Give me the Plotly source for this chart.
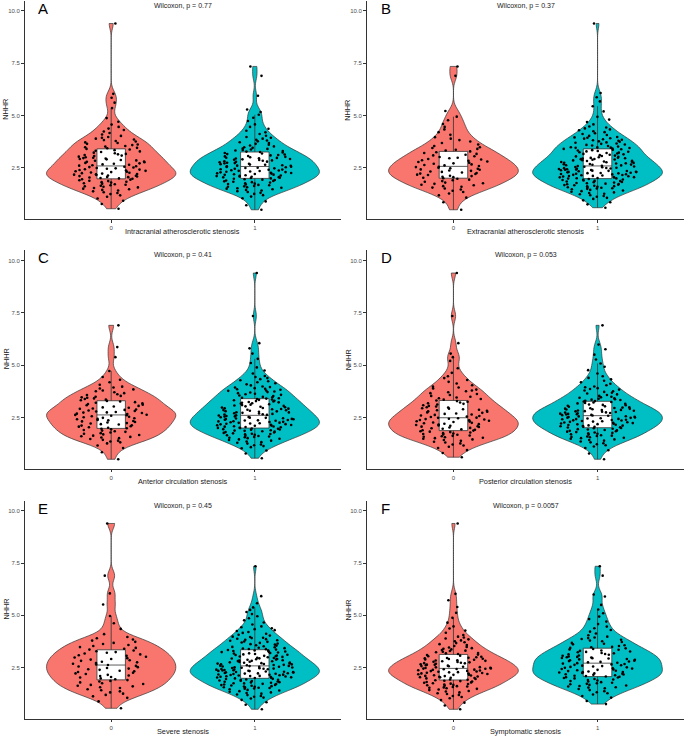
import plotly.graph_objects as go
from plotly.subplots import make_subplots

W, H = 685, 738

panel_letters = ["A", "B", "C", "D", "E", "F"]
x_titles = [
    "Intracranial atherosclerotic stenosis",
    "Extracranial atherosclerotic stenosis",
    "Anterior circulation stenosis",
    "Posterior circulation stenosis",
    "Severe stenosis",
    "Symptomatic stenosis",
]
p_labels = [
    "Wilcoxon, p = 0.77",
    "Wilcoxon, p = 0.37",
    "Wilcoxon, p = 0.41",
    "Wilcoxon, p = 0.053",
    "Wilcoxon, p = 0.45",
    "Wilcoxon, p = 0.0057",
]
group_labels = ["0", "1"]
y_ticks = [2.5, 5.0, 7.5, 10.0]
y_ticktext = ["2.5", "5.0", "7.5", "10.0"]

# NHHR values estimated from the jittered points and violin outlines, one list per group
a_0 = [0.55, 0.78, 0.93,
       1.04, 1.12, 1.19, 1.25, 1.3, 1.34, 1.38, 1.42, 1.45, 1.48,
       1.51, 1.54, 1.57, 1.6, 1.62, 1.65, 1.67, 1.7, 1.72, 1.75, 1.77, 1.8, 1.82, 1.84, 1.87, 1.89,
       1.91, 1.94, 1.96, 1.98,
       2.0, 2.02, 2.04, 2.06, 2.07, 2.09, 2.11, 2.13, 2.14, 2.16, 2.18, 2.2, 2.21, 2.23, 2.25, 2.27,
       2.28, 2.3, 2.32, 2.34, 2.36, 2.38, 2.4, 2.42, 2.44, 2.46, 2.48,
       2.5, 2.52, 2.54, 2.56, 2.58, 2.61, 2.63, 2.65, 2.67, 2.7, 2.72, 2.74, 2.77, 2.79, 2.81, 2.84,
       2.86, 2.88, 2.91, 2.93, 2.95, 2.97, 2.99,
       3.01, 3.04, 3.07, 3.09, 3.12, 3.15, 3.17, 3.2, 3.23, 3.26, 3.29, 3.32, 3.35, 3.38, 3.41, 3.44,
       3.46, 3.49,
       3.52, 3.55, 3.59, 3.62, 3.65, 3.69, 3.72, 3.76, 3.79, 3.83, 3.86, 3.9, 3.94, 3.98,
       4.03, 4.1, 4.17, 4.24, 4.31, 4.38, 4.46, 4.57, 4.71, 4.88,
       5.36, 5.62, 5.85, 6.04, 9.4]
a_1 = [0.5, 0.72, 0.9,
       1.05, 1.13, 1.2, 1.26, 1.31, 1.35, 1.39, 1.42, 1.45, 1.48,
       1.51, 1.53, 1.55, 1.58, 1.6, 1.62, 1.64, 1.67, 1.69, 1.71, 1.73, 1.75, 1.77, 1.8, 1.82, 1.84,
       1.86, 1.88, 1.9, 1.92, 1.94, 1.96, 1.98,
       2.0, 2.02, 2.03, 2.05, 2.06, 2.08, 2.09, 2.11, 2.12, 2.14, 2.15, 2.17, 2.18, 2.2, 2.21, 2.23,
       2.24, 2.26, 2.27, 2.29, 2.3, 2.32, 2.33, 2.35, 2.36, 2.38, 2.39, 2.41, 2.42, 2.44, 2.46, 2.48,
       2.5, 2.51, 2.53, 2.55, 2.56, 2.58, 2.6, 2.61, 2.63, 2.65, 2.66, 2.68, 2.7, 2.72, 2.73, 2.75,
       2.77, 2.79, 2.8, 2.82, 2.84, 2.86, 2.88, 2.89, 2.91, 2.93, 2.95, 2.96, 2.98, 2.99,
       3.01, 3.03, 3.05, 3.07, 3.1, 3.12, 3.14, 3.16, 3.19, 3.21, 3.24, 3.26, 3.28, 3.31, 3.33, 3.36,
       3.38, 3.41, 3.43, 3.46, 3.49,
       3.53, 3.57, 3.61, 3.65, 3.69, 3.73, 3.77, 3.81, 3.85, 3.9, 3.94, 3.98,
       4.04, 4.12, 4.2, 4.28, 4.37, 4.46, 4.58, 4.74, 4.9,
       5.04, 5.17, 5.29, 5.95, 6.9, 7.35]
b_0 = [0.5, 0.86,
       1.08, 1.19, 1.28, 1.35, 1.41, 1.47,
       1.52, 1.56, 1.6, 1.63, 1.67, 1.7, 1.74, 1.77, 1.8, 1.84, 1.87, 1.91, 1.94, 1.98,
       2.01, 2.03, 2.06, 2.08, 2.11, 2.13, 2.16, 2.18, 2.21, 2.23, 2.26, 2.28, 2.31, 2.33, 2.36, 2.38,
       2.41, 2.43, 2.46, 2.48,
       2.51, 2.54, 2.56, 2.59, 2.62, 2.64, 2.67, 2.7, 2.72, 2.75, 2.78, 2.81, 2.84, 2.87, 2.9, 2.93,
       2.96, 2.99,
       3.02, 3.06, 3.1, 3.13, 3.17, 3.21, 3.25, 3.29, 3.33, 3.37, 3.41, 3.45, 3.49,
       3.55, 3.62, 3.69, 3.76, 3.83, 3.9, 3.97,
       4.08, 4.21, 4.34, 4.46, 4.6, 4.78, 4.95, 5.22, 6.9, 7.35]
b_1 = [0.6, 0.76, 0.86, 0.95,
       1.02, 1.07, 1.12, 1.16, 1.2, 1.24, 1.27, 1.3, 1.33, 1.36, 1.39, 1.42, 1.45, 1.48,
       1.5, 1.52, 1.53, 1.55, 1.57, 1.58, 1.6, 1.62, 1.63, 1.65, 1.67, 1.68, 1.7, 1.72, 1.73, 1.75,
       1.77, 1.78, 1.8, 1.82, 1.83, 1.85, 1.87, 1.88, 1.9, 1.92, 1.93, 1.95, 1.97, 1.99,
       2.0, 2.01, 2.02, 2.04, 2.05, 2.06, 2.07, 2.09, 2.1, 2.11, 2.12, 2.14, 2.15, 2.16, 2.17, 2.19,
       2.2, 2.21, 2.22, 2.24, 2.25, 2.26, 2.27, 2.29, 2.3, 2.31, 2.32, 2.34, 2.35, 2.36, 2.37, 2.39,
       2.4, 2.41, 2.42, 2.44, 2.45, 2.46, 2.47, 2.49,
       2.5, 2.51, 2.53, 2.54, 2.56, 2.57, 2.59, 2.6, 2.62, 2.63, 2.65, 2.66, 2.68, 2.69, 2.71, 2.72,
       2.74, 2.75, 2.77, 2.78, 2.8, 2.81, 2.83, 2.84, 2.86, 2.87, 2.89, 2.9, 2.92, 2.93, 2.95, 2.96,
       2.98, 2.99,
       3.01, 3.03, 3.05, 3.07, 3.09, 3.11, 3.13, 3.15, 3.17, 3.19, 3.21, 3.23, 3.25, 3.27, 3.29, 3.31,
       3.33, 3.35, 3.37, 3.39, 3.41, 3.43, 3.45, 3.46, 3.47, 3.48, 3.49,
       3.52, 3.55, 3.57, 3.6, 3.62, 3.65, 3.67, 3.7, 3.72, 3.75, 3.77, 3.8, 3.82, 3.85, 3.87, 3.9,
       3.92, 3.94, 3.96, 3.98,
       4.03, 4.07, 4.12, 4.16, 4.21, 4.25, 4.3, 4.34, 4.39, 4.43, 4.48, 4.58, 4.69, 4.81, 4.94,
       5.2, 5.45, 5.68, 5.88, 6.08, 9.4]
c_0 = [0.5, 0.84,
       1.04, 1.16, 1.26, 1.31, 1.35, 1.39, 1.43, 1.47,
       1.51, 1.54, 1.57, 1.6, 1.63, 1.66, 1.69, 1.72, 1.75, 1.78, 1.81, 1.84, 1.87, 1.9, 1.93, 1.96,
       1.98,
       2.01, 2.03, 2.06, 2.08, 2.11, 2.13, 2.16, 2.18, 2.21, 2.23, 2.26, 2.28, 2.31, 2.33, 2.36, 2.38,
       2.41, 2.43, 2.46, 2.48,
       2.51, 2.53, 2.56, 2.58, 2.61, 2.62, 2.63, 2.66, 2.68, 2.71, 2.73, 2.74, 2.76, 2.78, 2.81, 2.83,
       2.86, 2.88, 2.91, 2.93, 2.96, 2.98,
       3.02, 3.05, 3.08, 3.11, 3.14, 3.17, 3.2, 3.23, 3.26, 3.29, 3.32, 3.35, 3.38, 3.41, 3.44, 3.46,
       3.49,
       3.53, 3.57, 3.61, 3.66, 3.7, 3.75, 3.79, 3.84, 3.88, 3.93, 3.97,
       4.06, 4.18, 4.3, 4.43, 4.72, 5.38, 5.86, 6.9]
c_1 = [0.55, 0.78, 0.92,
       1.03, 1.08, 1.13, 1.17, 1.21, 1.25, 1.29, 1.32, 1.35, 1.39, 1.42, 1.45, 1.48,
       1.51, 1.53, 1.55, 1.57, 1.59, 1.61, 1.63, 1.65, 1.67, 1.69, 1.71, 1.72, 1.74, 1.76, 1.78, 1.8,
       1.82, 1.84, 1.86, 1.87, 1.89, 1.91, 1.92, 1.94, 1.96, 1.97, 1.99,
       2.0, 2.01, 2.03, 2.04, 2.06, 2.07, 2.08, 2.1, 2.11, 2.13, 2.14, 2.15, 2.17, 2.18, 2.2, 2.21,
       2.22, 2.24, 2.25, 2.27, 2.28, 2.29, 2.31, 2.32, 2.34, 2.35, 2.36, 2.38, 2.39, 2.41, 2.42, 2.43,
       2.45, 2.46, 2.48, 2.49,
       2.51, 2.52, 2.54, 2.55, 2.57, 2.59, 2.6, 2.62, 2.64, 2.65, 2.67, 2.69, 2.7, 2.72, 2.74, 2.75,
       2.77, 2.79, 2.8, 2.82, 2.84, 2.85, 2.87, 2.89, 2.9, 2.92, 2.94, 2.95, 2.97, 2.99,
       3.01, 3.03, 3.05, 3.07, 3.09, 3.11, 3.13, 3.16, 3.18, 3.2, 3.22, 3.24, 3.26, 3.28, 3.3, 3.32,
       3.34, 3.36, 3.38, 3.4, 3.42, 3.44, 3.46, 3.48,
       3.52, 3.55, 3.58, 3.61, 3.63, 3.66, 3.69, 3.71, 3.74, 3.77, 3.79, 3.82, 3.85, 3.87, 3.9, 3.93,
       3.95, 3.98,
       4.03, 4.08, 4.13, 4.18, 4.23, 4.28, 4.33, 4.38, 4.43, 4.48, 4.6, 4.74, 4.89,
       5.1, 5.3, 5.55, 5.8, 6.05, 7.35, 9.4]
d_0 = [0.6, 0.8, 0.94,
       1.04, 1.1, 1.16, 1.21, 1.26, 1.3, 1.34, 1.38, 1.42, 1.45, 1.48,
       1.51, 1.53, 1.55, 1.58, 1.6, 1.62, 1.64, 1.67, 1.69, 1.71, 1.73, 1.75, 1.78, 1.8, 1.82, 1.84,
       1.87, 1.89, 1.91, 1.93, 1.96, 1.98,
       2.0, 2.02, 2.04, 2.06, 2.08, 2.1, 2.12, 2.14, 2.16, 2.18, 2.2, 2.22, 2.24, 2.26, 2.28, 2.3,
       2.32, 2.34, 2.36, 2.38, 2.4, 2.42, 2.44, 2.46, 2.48, 2.49,
       2.52, 2.54, 2.57, 2.59, 2.62, 2.64, 2.67, 2.69, 2.72, 2.74, 2.77, 2.79, 2.82, 2.84, 2.87, 2.89,
       2.92, 2.94, 2.97, 2.99,
       3.02, 3.05, 3.08, 3.12, 3.15, 3.18, 3.21, 3.25, 3.28, 3.31, 3.35, 3.38, 3.42, 3.45, 3.49,
       3.53, 3.57, 3.62, 3.66, 3.7, 3.75, 3.79, 3.83, 3.88, 3.93, 3.97,
       4.04, 4.12, 4.2, 4.29, 4.38, 4.47, 4.63, 4.85,
       5.2, 5.38, 5.55, 6.05, 7.35, 9.4]
d_1 = [0.5, 0.78, 0.93,
       1.04, 1.11, 1.17, 1.22, 1.27, 1.31, 1.35, 1.39, 1.42, 1.45, 1.48,
       1.51, 1.53, 1.55, 1.57, 1.59, 1.61, 1.63, 1.65, 1.68, 1.7, 1.72, 1.74, 1.76, 1.78, 1.8, 1.82,
       1.84, 1.86, 1.88, 1.9, 1.92, 1.94, 1.96, 1.98,
       2.0, 2.02, 2.03, 2.05, 2.06, 2.08, 2.09, 2.11, 2.12, 2.14, 2.15, 2.17, 2.18, 2.2, 2.21, 2.23,
       2.24, 2.26, 2.27, 2.29, 2.3, 2.32, 2.33, 2.35, 2.36, 2.38, 2.39, 2.41, 2.42, 2.43, 2.45, 2.46,
       2.48, 2.49,
       2.5, 2.52, 2.53, 2.55, 2.56, 2.58, 2.59, 2.61, 2.62, 2.64, 2.65, 2.67, 2.68, 2.7, 2.71, 2.73,
       2.74, 2.76, 2.77, 2.79, 2.8, 2.82, 2.83, 2.85, 2.86, 2.88, 2.89, 2.91, 2.92, 2.94, 2.95, 2.97,
       2.99,
       3.01, 3.03, 3.06, 3.08, 3.1, 3.12, 3.15, 3.17, 3.19, 3.21, 3.24, 3.26, 3.28, 3.3, 3.33, 3.35,
       3.37, 3.39, 3.42, 3.44, 3.46, 3.49,
       3.53, 3.57, 3.6, 3.64, 3.68, 3.72, 3.75, 3.79, 3.83, 3.86, 3.9, 3.94, 3.98,
       4.04, 4.11, 4.18, 4.25, 4.32, 4.39, 4.47, 4.6, 4.76, 4.92,
       5.08, 5.27, 5.5, 5.76, 5.98, 6.9]
e_0 = [0.55, 0.88,
       1.05, 1.12, 1.19, 1.25, 1.31, 1.36, 1.41, 1.46,
       1.52, 1.56, 1.6, 1.63, 1.67, 1.71, 1.75, 1.79, 1.83, 1.86, 1.9, 1.94, 1.98,
       2.02, 2.05, 2.09, 2.12, 2.15, 2.19, 2.22, 2.25, 2.29, 2.32, 2.35, 2.39, 2.42, 2.45, 2.48,
       2.52, 2.55, 2.58, 2.62, 2.65, 2.68, 2.72, 2.75, 2.78, 2.82, 2.85, 2.88, 2.91, 2.95, 2.98,
       3.02, 3.06, 3.09, 3.13, 3.17, 3.21, 3.24, 3.28, 3.32, 3.36, 3.4, 3.44, 3.48,
       3.53, 3.58, 3.63, 3.68, 3.73, 3.79, 3.84, 3.9, 3.96,
       4.1, 4.35, 4.62, 4.97, 5.52, 6.05, 6.9, 9.4]
e_1 = [0.5, 0.72, 0.84, 0.95,
       1.02, 1.06, 1.1, 1.14, 1.18, 1.21, 1.25, 1.28, 1.31, 1.34, 1.37, 1.4, 1.43, 1.46, 1.49,
       1.5, 1.52, 1.53, 1.55, 1.56, 1.58, 1.59, 1.61, 1.63, 1.64, 1.66, 1.67, 1.69, 1.71, 1.72, 1.74,
       1.75, 1.77, 1.79, 1.8, 1.82, 1.83, 1.85, 1.87, 1.88, 1.9, 1.91, 1.93, 1.95, 1.96, 1.98,
       2.0, 2.01, 2.02, 2.03, 2.05, 2.06, 2.07, 2.08, 2.09, 2.1, 2.12, 2.13, 2.14, 2.15, 2.16, 2.17,
       2.19, 2.2, 2.21, 2.22, 2.23, 2.24, 2.26, 2.27, 2.28, 2.29, 2.3, 2.31, 2.33, 2.34, 2.35, 2.36,
       2.37, 2.38, 2.4, 2.41, 2.42, 2.43, 2.44, 2.45, 2.47, 2.48, 2.49,
       2.5, 2.51, 2.53, 2.54, 2.55, 2.57, 2.58, 2.59, 2.61, 2.62, 2.63, 2.65, 2.66, 2.67, 2.69, 2.7,
       2.71, 2.73, 2.74, 2.75, 2.77, 2.78, 2.8, 2.81, 2.82, 2.84, 2.85, 2.87, 2.88, 2.9, 2.91, 2.93,
       2.94, 2.96, 2.97, 2.99,
       3.01, 3.03, 3.04, 3.06, 3.08, 3.1, 3.11, 3.13, 3.15, 3.17, 3.18, 3.2, 3.22, 3.24, 3.25, 3.27,
       3.29, 3.31, 3.32, 3.34, 3.36, 3.38, 3.39, 3.41, 3.43, 3.45, 3.47, 3.49,
       3.52, 3.55, 3.57, 3.6, 3.62, 3.65, 3.68, 3.7, 3.73, 3.75, 3.78, 3.81, 3.83, 3.86, 3.88, 3.91,
       3.93, 3.96, 3.98,
       4.03, 4.07, 4.12, 4.16, 4.2, 4.25, 4.29, 4.34, 4.38, 4.43, 4.47,
       4.56, 4.66, 4.76, 4.86, 4.96, 5.06, 5.16, 5.26, 5.38, 5.58, 5.92, 7.35]
f_0 = [0.5, 0.68, 0.82, 0.94,
       1.03, 1.09, 1.14, 1.19, 1.23, 1.27, 1.31, 1.35, 1.38, 1.42, 1.45, 1.48,
       1.51, 1.53, 1.55, 1.57, 1.59, 1.61, 1.63, 1.65, 1.67, 1.69, 1.71, 1.73, 1.75, 1.77, 1.79, 1.81,
       1.83, 1.85, 1.87, 1.89, 1.91, 1.93, 1.95, 1.98,
       2.0, 2.01, 2.03, 2.04, 2.06, 2.07, 2.09, 2.1, 2.12, 2.13, 2.15, 2.16, 2.18, 2.19, 2.21, 2.22,
       2.24, 2.25, 2.27, 2.28, 2.3, 2.31, 2.33, 2.34, 2.36, 2.37, 2.39, 2.4, 2.42, 2.43, 2.44, 2.45,
       2.46, 2.48, 2.49,
       2.51, 2.52, 2.54, 2.56, 2.57, 2.59, 2.61, 2.63, 2.64, 2.66, 2.68, 2.7, 2.71, 2.73, 2.75, 2.77,
       2.78, 2.8, 2.82, 2.84, 2.85, 2.87, 2.89, 2.91, 2.92, 2.94, 2.96, 2.97, 2.99,
       3.02, 3.04, 3.07, 3.1, 3.12, 3.15, 3.18, 3.2, 3.23, 3.26, 3.29, 3.31, 3.34, 3.37, 3.4, 3.43,
       3.46, 3.49,
       3.53, 3.58, 3.62, 3.67, 3.71, 3.76, 3.8, 3.85, 3.89, 3.94, 3.98,
       4.06, 4.17, 4.27, 4.37, 4.47, 4.65, 4.88,
       5.12, 5.4, 5.72, 6.03, 9.4]
f_1 = [0.75, 0.9,
       1.06, 1.14, 1.21, 1.27, 1.32, 1.37, 1.42, 1.47,
       1.51, 1.54, 1.56, 1.59, 1.62, 1.64, 1.67, 1.7, 1.72, 1.75, 1.77, 1.8, 1.83, 1.85, 1.88, 1.9,
       1.93, 1.95, 1.98,
       2.0, 2.02, 2.04, 2.06, 2.07, 2.09, 2.11, 2.13, 2.15, 2.17, 2.18, 2.2, 2.22, 2.24, 2.26, 2.28,
       2.29, 2.31, 2.33, 2.35, 2.37, 2.39, 2.41, 2.43, 2.45, 2.47, 2.49,
       2.51, 2.53, 2.55, 2.57, 2.59, 2.61, 2.63, 2.65, 2.67, 2.69, 2.71, 2.73, 2.75, 2.77, 2.79, 2.81,
       2.83, 2.85, 2.87, 2.89, 2.91, 2.93, 2.95, 2.96, 2.98, 2.99,
       3.01, 3.03, 3.06, 3.08, 3.11, 3.13, 3.15, 3.18, 3.2, 3.23, 3.25, 3.27, 3.3, 3.32, 3.35, 3.37,
       3.39, 3.42, 3.44, 3.47, 3.49,
       3.53, 3.57, 3.61, 3.64, 3.68, 3.72, 3.76, 3.79, 3.83, 3.87, 3.91, 3.94, 3.98,
       4.05, 4.13, 4.22, 4.3, 4.38, 4.46, 4.58, 4.7, 4.82, 4.94,
       5.1, 5.28, 5.5, 5.9, 6.0, 6.9, 7.35]

panel_groups = [(a_0, a_1), (b_0, b_1), (c_0, c_1), (d_0, d_1), (e_0, e_1), (f_0, f_1)]

RED = "#F8766D"
CYAN = "#00BFC4"
DARK = "#333333"
FONT = "Liberation Sans, Arial, sans-serif"

# pixel boxes of the six plotting areas (ggplot layout)
col_px = [(25, 341), (367, 684)]
row_px = [(0.5, 219), (250, 468.5), (500.5, 718.5)]


def fx(p):
    return p / W


def fy(p):
    return 1 - p / H


fig = make_subplots(rows=3, cols=2)

for i, letter in enumerate(panel_letters):
    r, c = divmod(i, 2)
    for k, (vals, color) in enumerate(zip(panel_groups[i], [RED, CYAN])):
        fig.add_trace(
            go.Violin(
                x0=k,
                y=vals,
                name=group_labels[k],
                width=0.9,
                scalegroup=letter,
                scalemode="width",
                spanmode="hard",
                bandwidth=0.25,
                fillcolor=color,
                opacity=1,
                line={"color": DARK, "width": 0.7},
                points="all",
                pointpos=0,
                jitter=0.6,
                marker={"color": "black", "size": 2.6},
                box={"visible": True, "width": 0.22, "fillcolor": "white",
                     "line": {"color": DARK, "width": 0.8}},
                meanline={"visible": False},
                hoverinfo="skip",
                showlegend=False,
            ),
            row=r + 1,
            col=c + 1,
        )

    sfx = "" if i == 0 else str(i + 1)
    x0, x1 = col_px[c]
    y0, y1 = row_px[r]
    fig.layout["xaxis" + sfx].update(
        domain=[fx(x0), fx(x1)],
        range=[-0.6, 1.6],
        tickvals=[0, 1],
        ticktext=group_labels,
        showgrid=False, zeroline=False,
        showline=True, linecolor=DARK, linewidth=0.9,
        ticks="outside", ticklen=3, tickwidth=0.8, tickcolor=DARK,
        tickfont={"size": 6, "color": "#4D4D4D", "family": FONT},
    )
    fig.layout["yaxis" + sfx].update(
        domain=[fy(y1), fy(y0)],
        range=[0.06, 10.5],
        tickvals=y_ticks,
        ticktext=y_ticktext,
        showgrid=False, zeroline=False,
        showline=True, linecolor=DARK, linewidth=0.9,
        ticks="outside", ticklen=3, tickwidth=0.8, tickcolor=DARK,
        tickfont={"size": 6, "color": "#4D4D4D", "family": FONT},
    )

    xr, yr = "x" + sfx, "y" + sfx
    # panel letter
    fig.add_annotation(text=letter, x=-0.52, y=10.12, xref=xr, yref=yr,
                       xanchor="left", yanchor="middle", showarrow=False,
                       font={"size": 15, "color": "black", "family": FONT})
    # Wilcoxon label
    fig.add_annotation(text=p_labels[i], x=0.5, y=10.24, xref=xr, yref=yr,
                       xanchor="center", yanchor="middle", showarrow=False,
                       font={"size": 7, "color": "#1A1A1A", "family": FONT})
    # x axis title
    fig.add_annotation(text=x_titles[i], x=fx((x0 + x1) / 2), y=fy(y1 + 13),
                       xref="paper", yref="paper", xanchor="center", yanchor="middle",
                       showarrow=False, font={"size": 7.3, "color": "#1A1A1A", "family": FONT})
    # y axis title
    fig.add_annotation(text="NHHR", x=fx(x0 - 19), y=fy((y0 + y1) / 2), textangle=-90,
                       xref="paper", yref="paper", xanchor="center", yanchor="middle",
                       showarrow=False, font={"size": 7.3, "color": "#1A1A1A", "family": FONT})

fig.update_layout(
    width=W,
    height=H,
    margin={"l": 0, "r": 0, "t": 0, "b": 0},
    paper_bgcolor="white",
    plot_bgcolor="white",
    violinmode="overlay",
    showlegend=False,
)

# the page body has a default 8px margin; drop it so the figure fills the window
fig.write_html(
    "out.html",
    config={"displayModeBar": False},
    post_script="document.body.style.margin = '0';",
)
